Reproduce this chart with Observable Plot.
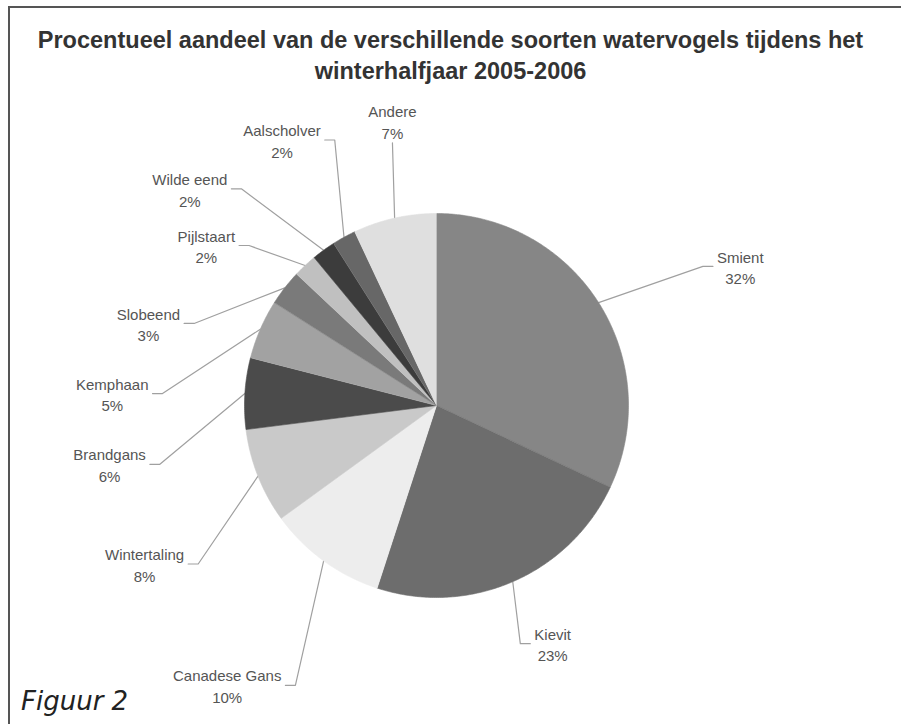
<!DOCTYPE html>
<html><head><meta charset="utf-8">
<script src="https://cdn.jsdelivr.net/npm/d3@7"></script>
<script src="https://cdn.jsdelivr.net/npm/@observablehq/plot@0.6"></script>
<style>
body{margin:0;background:#fff;}
#page{position:relative;width:901px;height:724px;overflow:hidden;background:#fff;font-family:"Liberation Sans",Arial,sans-serif;}
#frame{position:absolute;left:8px;top:6px;width:900px;height:730px;border-left:2px solid #555;border-top:2px solid #555;}
#title{position:absolute;left:0;width:901px;top:25px;text-align:center;font-weight:bold;font-size:23.5px;line-height:31px;color:#333;}
#chart{position:absolute;left:0;top:90px;}
#fig{position:absolute;left:21px;top:686px;font-style:italic;font-size:26px;line-height:30px;color:#222;font-family:"DejaVu Sans",sans-serif;}
</style></head>
<body>
<div id="page">
  <div id="frame"></div>
  <div id="title">Procentueel aandeel van de verschillende soorten watervogels tijdens het<br>winterhalfjaar 2005-2006</div>
  <div id="chart"></div>
  <div id="fig">Figuur 2</div>
</div>
<script>
// Data
const names = ["Smient","Kievit","Canadese Gans","Wintertaling","Brandgans","Kemphaan","Slobeend","Pijlstaart","Wilde eend","Aalscholver","Andere"];
const shares = [32,23,10,8,6,5,3,2,2,2,7];
const shades = ["#868686","#6d6d6d","#ededed","#c9c9c9","#4b4b4b","#a2a2a2","#7a7a7a","#c0c0c0","#3c3c3c","#676767","#dfdfdf"];

// Layout (label placement: angle in degrees clockwise from top, distance in radii)
const labelAngle = [65.4,154,216.8,241.5,259.8,272.1,285.9,304.8,311.3,329.8,351.2];
const labelDist  = [1.74,1.38,1.82,1.73,1.73,1.69,1.56,1.46,1.71,1.60,1.50];
const R = 192, CX = 436, CY = 315, W = 901, H = 634;
const FONT = 15;

const data = names.map((name, i) => ({name, share: shares[i]}));
const arcs = d3.pie().sort(null).value(d => d.share)(data);

const slicePts = [];
arcs.forEach(a => {
  slicePts.push({name: a.data.name, x: 0, y: 0});
  const n = Math.max(4, Math.ceil((a.endAngle - a.startAngle) / 0.01));
  for (let k = 0; k <= n; k++) {
    const t = a.startAngle + (a.endAngle - a.startAngle) * k / n;
    slicePts.push({name: a.data.name, x: Math.sin(t), y: Math.cos(t)});
  }
});

const ctx = document.createElement("canvas").getContext("2d");
ctx.font = `${FONT}px "Liberation Sans"`;

const labels = [];
const leaders = [];
arcs.forEach((a, i) => {
  const name = a.data.name;
  const text = `${name}\n${a.data.share}%`;
  const th = labelAngle[i] * Math.PI / 180;
  const lx = labelDist[i] * Math.sin(th), ly = labelDist[i] * Math.cos(th);
  labels.push({name, text, x: lx, y: ly});
  const mid = (a.startAngle + a.endAngle) / 2;
  const edge = {x: Math.sin(mid), y: Math.cos(mid)};
  const w = Math.max(ctx.measureText(name).width, ctx.measureText(a.data.share + "%").width);
  const halfW = w / 2 / R;
  if (labelAngle[i] > 340 || labelAngle[i] < 20) {
    leaders.push({name, ...edge});
    leaders.push({name, x: lx, y: ly - 22 / R});
  } else {
    const side = lx < 0 ? 1 : -1;
    const end = {x: lx + side * (halfW + 4 / R), y: ly};
    const elbow = {x: end.x + side * 10 / R, y: ly};
    leaders.push({name, ...edge});
    leaders.push({name, ...elbow});
    leaders.push({name, ...end});
  }
});

const chart = Plot.plot({
  width: W, height: H, margin: 0,
  style: {background: "transparent"},
  x: {domain: [-CX / R, (W - CX) / R], axis: null},
  y: {domain: [-(H - CY) / R, CY / R], axis: null},
  color: {domain: names, range: shades},
  marks: [
    Plot.line(leaders, {x: "x", y: "y", z: "name", stroke: "#a0a0a0", strokeWidth: 1.2}),
    Plot.line(slicePts, {x: "x", y: "y", z: "name", fill: "name", stroke: "name", strokeWidth: 0.6}),
    Plot.text(labels, {x: "x", y: "y", text: "text", fontSize: FONT, lineHeight: 1.45, fill: "#555", fontFamily: "Liberation Sans"})
  ]
});
document.getElementById("chart").appendChild(chart);
</script>
</body></html>
